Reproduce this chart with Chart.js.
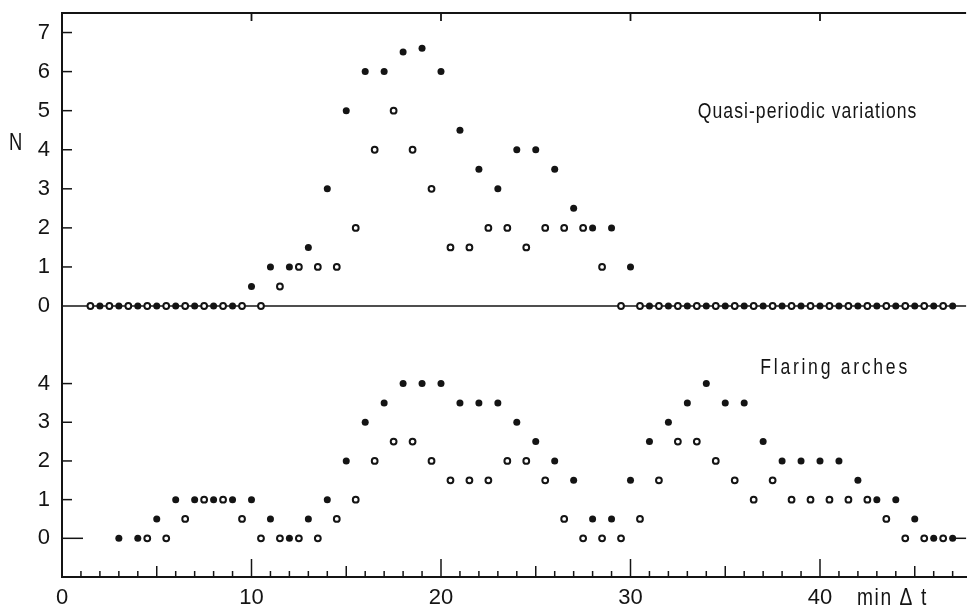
<!DOCTYPE html>
<html>
<head>
<meta charset="utf-8">
<title>N against time difference</title>
<script src="https://cdn.jsdelivr.net/npm/chart.js@4.4.0/dist/chart.umd.min.js"></script>
<style>
  html, body { margin: 0; padding: 0; background: #fff; }
  #wrap { position: relative; width: 971px; height: 608px; }
</style>
</head>
<body>
<div id="wrap"><canvas id="graph"></canvas></div>
<script>
// Sample times in minutes: filled dots sit on whole minutes, open circles on half minutes
const minutes = [1, 2, 3, 4, 5, 6, 7, 8, 9, 10, 11, 12, 13, 14, 15, 16, 17, 18, 19, 20,
  21, 22, 23, 24, 25, 26, 27, 28, 29, 30, 31, 32, 33, 34, 35, 36, 37, 38, 39, 40,
  41, 42, 43, 44, 45, 46, 47];
const halfMinutes = [1.5, 2.5, 3.5, 4.5, 5.5, 6.5, 7.5, 8.5, 9.5, 10.5, 11.5, 12.5, 13.5, 14.5,
  15.5, 16.5, 17.5, 18.5, 19.5, 20.5, 21.5, 22.5, 23.5, 24.5, 25.5, 26.5, 27.5, 28.5,
  29.5, 30.5, 31.5, 32.5, 33.5, 34.5, 35.5, 36.5, 37.5, 38.5, 39.5, 40.5, 41.5, 42.5,
  43.5, 44.5, 45.5, 46.5];

// Quasi-periodic variations (upper panel)
const quasiFilled = [null, 0, 0, 0, 0, 0, 0, 0, 0, 0.5, 1, 1, 1.5, 3, 5, 6, 6, 6.5, 6.6, 6,
  4.5, 3.5, 3, 4, 4, 3.5, 2.5, 2, 2, 1, 0, 0, 0, 0, 0, 0, 0, 0, 0, 0,
  0, 0, 0, 0, 0, 0, 0];
const quasiOpen = [0, 0, 0, 0, 0, 0, 0, 0, 0, 0, 0.5, 1, 1, 1, 2, 4, 5, 4, 3, 1.5,
  1.5, 2, 2, 1.5, 2, 2, 2, 1, 0, 0, 0, 0, 0, 0, 0, 0, 0, 0, 0, 0,
  0, 0, 0, 0, 0, 0];

// Flaring arches (lower panel)
const flaringFilled = [null, null, 0, 0, 0.5, 1, 1, 1, 1, 1, 0.5, 0, 0.5, 1, 2, 3, 3.5, 4, 4, 4,
  3.5, 3.5, 3.5, 3, 2.5, 2, 1.5, 0.5, 0.5, 1.5, 2.5, 3, 3.5, 4, 3.5, 3.5, 2.5, 2, 2, 2,
  2, 1.5, 1, 1, 0.5, 0, 0];
const flaringOpen = [null, null, null, 0, 0, 0.5, 1, 1, 0.5, 0, 0, 0, 0, 0.5, 1, 2, 2.5, 2.5, 2, 1.5,
  1.5, 1.5, 2, 2, 1.5, 0.5, 0, 0, 0, 0.5, 1.5, 2.5, 2.5, 2, 1.5, 1, 1.5, 1, 1, 1,
  1, 1, 0.5, 0, 0, 0];

const xTickLabels = [0, 10, 20, 30, 40];
const quasiTicks = [0, 1, 2, 3, 4, 5, 6, 7];
const flaringTicks = [0, 1, 2, 3, 4];

const INK = '#141414';
const FONT = "'Liberation Sans', Arial, sans-serif";

Chart.defaults.font.family = FONT;
Chart.defaults.color = INK;

function toPoints(xs, ys) {
    return xs.map((x, i) => (ys[i] === null ? null : { x: x, y: ys[i] })).filter(p => p);
}

function filledDots(data, axis) {
    return {
        data: data,
        yAxisID: axis,
        pointRadius: 3.5,
        pointBackgroundColor: INK,
        pointBorderWidth: 0,
        pointHoverRadius: 3.5
    };
}

function openDots(data, axis) {
    return {
        data: data,
        yAxisID: axis,
        pointRadius: 2.9,
        pointBackgroundColor: '#fff',
        pointBorderColor: INK,
        pointBorderWidth: 2,
        pointHoverRadius: 2.9
    };
}

// the plotter lettering is narrow, so squeeze it horizontally
function narrowText(ctx, str, x, y, spacing) {
    ctx.save();
    ctx.translate(x, y);
    ctx.scale(0.8, 1);
    ctx.letterSpacing = spacing + 'px';
    ctx.fillText(str, 0, 0);
    ctx.restore();
}

// no extra room for labels that overhang the ends of an axis
function tightFit(width, height) {
    return s => {
        if (width) s.width = width;
        if (height) s.height = height;
        s.paddingTop = 0;
        s.paddingBottom = 0;
        s.paddingLeft = 0;
        s.paddingRight = 0;
    };
}

// Frame, inward tick marks, zero lines and the free text
const framePlugin = {
    id: 'frame',
    beforeDatasetsDraw(chart) {
        const { ctx, chartArea: a, scales } = chart;
        const x = scales.x, yTop = scales.yTop, yBot = scales.yBot;
        const line = (x1, y1, x2, y2) => {
            ctx.beginPath();
            ctx.moveTo(x1, y1);
            ctx.lineTo(x2, y2);
            ctx.stroke();
        };
        ctx.save();
        ctx.strokeStyle = INK;
        ctx.lineWidth = 1.8;

        // top border, marked every 10 min
        line(a.left, a.top, a.right, a.top);
        xTickLabels.forEach(v => {
            if (v === 0) return;
            const px = x.getPixelForValue(v);
            line(px, a.top, px, a.top + 8);
        });

        // minute ticks on the time axis
        ctx.lineWidth = 1.5;
        minutes.forEach(m => {
            const len = m % 10 === 0 ? 18 : (m % 5 === 0 ? 11 : 6);
            const px = x.getPixelForValue(m);
            line(px, a.bottom, px, a.bottom - len);
        });

        // upper panel
        quasiTicks.forEach(v => {
            if (v === 0) return;
            const py = yTop.getPixelForValue(v);
            line(a.left, py, a.left + 10, py);
        });
        const top0 = yTop.getPixelForValue(0);
        line(a.left, top0, a.right, top0);

        // lower panel
        flaringTicks.forEach(v => {
            const py = yBot.getPixelForValue(v);
            line(a.left, py, a.left + (v === 0 ? 21 : 10), py);
        });
        const bot0 = yBot.getPixelForValue(0);
        line(x.getPixelForValue(minutes[minutes.length - 1]), bot0, a.right, bot0);
        ctx.restore();
    },
    afterDraw(chart) {
        const { ctx, scales } = chart;
        const x = scales.x, yTop = scales.yTop, yBot = scales.yBot;
        ctx.save();
        ctx.fillStyle = INK;
        ctx.textBaseline = 'alphabetic';
        ctx.textAlign = 'left';

        ctx.font = "23px " + FONT;
        narrowText(ctx, 'N', 9, 150, 0);

        ctx.font = "22px " + FONT;
        narrowText(ctx, 'Quasi-periodic variations', x.getPixelForValue(33.55), yTop.getPixelForValue(4.8), 1.3);
        narrowText(ctx, 'Flaring arches', x.getPixelForValue(36.85), yBot.getPixelForValue(4.25), 3.4);

        ctx.font = "24px " + FONT;
        narrowText(ctx, 'min \u0394 t', x.getPixelForValue(41.95), 605, 2);
        ctx.restore();
    }
};

new Chart(document.getElementById('graph'), {
    type: 'scatter',
    data: {
        datasets: [
            filledDots(toPoints(minutes, quasiFilled), 'yTop'),
            openDots(toPoints(halfMinutes, quasiOpen), 'yTop'),
            filledDots(toPoints(minutes, flaringFilled), 'yBot'),
            openDots(toPoints(halfMinutes, flaringOpen), 'yBot')
        ]
    },
    options: {
        responsive: true,
        maintainAspectRatio: false,
        animation: false,
        layout: { padding: { top: 13, right: 1, left: 0, bottom: 0 } },
        plugins: {
            legend: { display: false },
            tooltip: { enabled: false }
        },
        scales: {
            x: {
                type: 'linear',
                min: 0,
                max: 47.71,
                afterBuildTicks: s => { s.ticks = xTickLabels.map(v => ({ value: v })); },
                afterFit: tightFit(0, 31),
                grid: { drawOnChartArea: false, drawTicks: false },
                border: { color: INK, width: 2 },
                ticks: { font: { size: 22 }, color: INK, padding: 8, maxRotation: 0, autoSkip: false }
            },
            yTop: {
                type: 'linear',
                position: 'left',
                stack: 'n',
                stackWeight: 312,
                weight: 1,
                min: -0.5,
                max: 7.5,
                afterBuildTicks: s => { s.ticks = quasiTicks.map(v => ({ value: v })); },
                afterFit: tightFit(62, 0),
                grid: { drawOnChartArea: false, drawTicks: false },
                border: { color: INK, width: 2 },
                ticks: { font: { size: 22 }, color: INK, padding: 12, autoSkip: false }
            },
            yBot: {
                type: 'linear',
                position: 'left',
                stack: 'n',
                stackWeight: 251,
                weight: 0,
                min: -1,
                max: 5.5,
                afterBuildTicks: s => { s.ticks = flaringTicks.map(v => ({ value: v })); },
                afterFit: tightFit(62, 0),
                grid: { drawOnChartArea: false, drawTicks: false },
                border: { color: INK, width: 2 },
                ticks: { font: { size: 22 }, color: INK, padding: 12, autoSkip: false }
            }
        }
    },
    plugins: [framePlugin]
});
</script>
</body>
</html>
